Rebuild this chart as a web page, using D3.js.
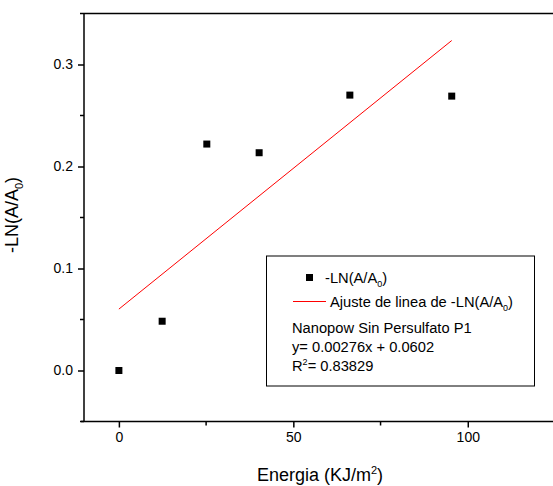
<!DOCTYPE html>
<html><head><meta charset="utf-8">
<script src="https://cdn.jsdelivr.net/npm/d3@7"></script>
<style>body{margin:0;background:#fff}svg{display:block;font-family:"Liberation Sans",Arial,sans-serif}</style>
</head><body>
<svg id="c" width="553" height="486"></svg>
<script>
const energy = [0, 12.4, 25.2, 40.2, 66.2, 95.4];
const lnValues = [0, 0.0483, 0.222, 0.2135, 0.27, 0.269];
const fitSlope = 0.00276, fitIntercept = 0.0602;
const xTicks = [0, 50, 100];
const xMinor = [25, 75, 125];
const yTicks = [0.0, 0.1, 0.2, 0.3];
const yMinor = [-0.05, 0.05, 0.15, 0.25, 0.35];
const legendLines = ["Nanopow Sin Persulfato P1", "y= 0.00276x + 0.0602"];

const svg = d3.select("#c");
const L = 84, T = 13.5, R = 555, B = 421.5;
const x = d3.scaleLinear().domain([-10, 125]).range([L, R]);
const y = d3.scaleLinear().domain([-0.05, 0.35]).range([B, T]);

// frame
svg.append("line").attr("x1", L).attr("x2", 553).attr("y1", T).attr("y2", T).attr("stroke", "#000").attr("stroke-width", 1.5);

const xAxis = d3.axisBottom(x).tickValues(xTicks).tickFormat(d3.format("d")).tickSize(6).tickPadding(5);
const gx = svg.append("g").attr("transform", `translate(0,${B})`).call(xAxis);
gx.select(".domain").remove();
gx.append("line").attr("x1", L - 3).attr("x2", 553).attr("stroke", "#000").attr("stroke-width", 1.5);
gx.selectAll(".tick line").attr("stroke-width", 1.5);
gx.selectAll(".tick text").attr("font-size", 14).attr("font-family", "Liberation Sans, Arial").attr("fill", "#000");
svg.append("g").attr("transform", `translate(0,${B})`).selectAll("line").data(xMinor).join("line")
  .attr("x1", d => x(d)).attr("x2", d => x(d)).attr("y1", 0).attr("y2", 4).attr("stroke", "#000").attr("stroke-width", 1.5);

const yAxis = d3.axisLeft(y).tickValues(yTicks).tickFormat(d3.format(".1f")).tickSize(6).tickPadding(5);
const gy = svg.append("g").attr("transform", `translate(${L},0)`).call(yAxis);
gy.select(".domain").remove();
gy.append("line").attr("y1", T).attr("y2", B).attr("stroke", "#000").attr("stroke-width", 1.5);
gy.selectAll(".tick line").attr("stroke-width", 1.5);
gy.selectAll(".tick text").attr("font-size", 14).attr("font-family", "Liberation Sans, Arial").attr("fill", "#000");
svg.append("g").attr("transform", `translate(${L},0)`).selectAll("line").data(yMinor).join("line")
  .attr("x1", -4).attr("x2", 0).attr("y1", d => y(d)).attr("y2", d => y(d)).attr("stroke", "#000").attr("stroke-width", 1.5);

// fit line
const xs = [energy[0], energy[energy.length - 1]];
svg.append("line")
  .attr("x1", x(xs[0])).attr("y1", y(fitIntercept + fitSlope * xs[0]))
  .attr("x2", x(xs[1])).attr("y2", y(fitIntercept + fitSlope * xs[1]))
  .attr("stroke", "#ff0000").attr("stroke-width", 1);

// points
svg.append("g").selectAll("rect").data(energy).join("rect")
  .attr("x", (d) => x(d) - 3.5).attr("y", (d, i) => y(lnValues[i]) - 3.5)
  .attr("width", 7).attr("height", 7).attr("fill", "#000");

// axis titles
svg.append("text").attr("x", 320).attr("y", 481).attr("text-anchor", "middle").attr("font-size", 18)
  .html('Energia (KJ/m<tspan dy="-7" font-size="11">2</tspan><tspan dy="7">)</tspan>');
svg.append("text").attr("transform", "translate(18,215) rotate(-90)").attr("text-anchor", "middle").attr("font-size", 18)
  .html('-LN(A/A<tspan dy="5" font-size="11">0</tspan><tspan dy="-5">)</tspan>');

// legend
const lg = svg.append("g");
const fs = 14.7;
lg.append("rect").attr("x", 266.5).attr("y", 256).attr("width", 268).attr("height", 130).attr("fill", "#fff").attr("stroke", "#000").attr("stroke-width", 1);
lg.append("rect").attr("x", 306).attr("y", 274).attr("width", 7).attr("height", 7).attr("fill", "#000");
lg.append("text").attr("x", 325).attr("y", 283).attr("font-size", fs)
  .html('-LN(A/A<tspan dy="4" font-size="9">0</tspan><tspan dy="-4">)</tspan>');
lg.append("line").attr("x1", 293).attr("x2", 326).attr("y1", 301.5).attr("y2", 301.5).attr("stroke", "#ff0000").attr("stroke-width", 1);
lg.append("text").attr("x", 330).attr("y", 307).attr("font-size", fs)
  .html('Ajuste de linea de -LN(A/A<tspan dy="4" font-size="9">0</tspan><tspan dy="-4">)</tspan>');
lg.append("text").attr("x", 292).attr("y", 333).attr("font-size", fs).text(legendLines[0]);
lg.append("text").attr("x", 292).attr("y", 352).attr("font-size", fs).text(legendLines[1]);
lg.append("text").attr("x", 292).attr("y", 371).attr("font-size", fs)
  .html('R<tspan dy="-6" font-size="9">2</tspan><tspan dy="6">= 0.83829</tspan>');
</script>
</body></html>
